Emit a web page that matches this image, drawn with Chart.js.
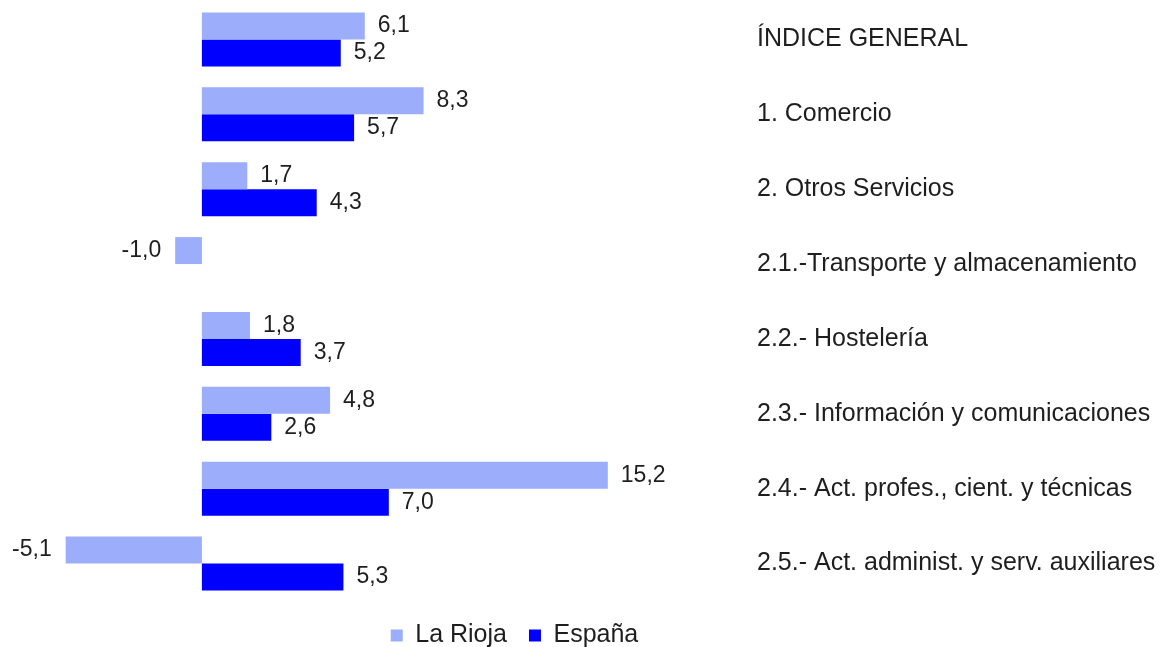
<!DOCTYPE html>
<html>
<head>
<meta charset="utf-8">
<script src="https://cdn.jsdelivr.net/npm/chart.js@4"></script>
<style>
  html, body { margin: 0; padding: 0; background: #fff; }
  #wrap { width: 1160px; height: 647px; }
</style>
</head>
<body>
<div id="wrap"><canvas id="chart"></canvas></div>
<script>
const categories = [
  "ÍNDICE GENERAL",
  "1. Comercio",
  "2. Otros Servicios",
  "2.1.-Transporte y almacenamiento",
  "2.2.- Hostelería",
  "2.3.- Información y comunicaciones",
  "2.4.- Act. profes., cient. y técnicas",
  "2.5.- Act. administ. y serv. auxiliares"
];
const laRioja = [6.1, 8.3, 1.7, -1.0, 1.8, 4.8, 15.2, -5.1];
const espana = [5.2, 5.7, 4.3, null, 3.7, 2.6, 7.0, 5.3];

const FONT = "'Liberation Sans', Arial, Helvetica, sans-serif";

// value labels at the end of each bar
const barValues = {
  id: "barValues",
  afterDatasetsDraw(chart) {
    const ctx = chart.ctx;
    ctx.save();
    ctx.font = "23px " + FONT;
    ctx.fillStyle = "#1e1e1e";
    ctx.textBaseline = "middle";
    chart.data.datasets.forEach((ds, i) => {
      const meta = chart.getDatasetMeta(i);
      meta.data.forEach((bar, j) => {
        const v = ds.data[j];
        if (v === null || v === undefined) return;
        const txt = v.toFixed(1).replace(".", ",");
        if (v >= 0) {
          ctx.textAlign = "left";
          ctx.fillText(txt, bar.x + 13, bar.y);
        } else {
          ctx.textAlign = "right";
          ctx.fillText(txt, bar.x - 14, bar.y);
        }
      });
    });
    ctx.restore();
  }
};

new Chart(document.getElementById("chart"), {
  type: "bar",
  data: {
    labels: categories,
    datasets: [
      {
        label: "La Rioja",
        data: laRioja,
        backgroundColor: "#9cadfb",
        categoryPercentage: 0.72,
        barPercentage: 1.0
      },
      {
        label: "España",
        data: espana,
        backgroundColor: "#0000ff",
        categoryPercentage: 0.72,
        barPercentage: 1.0
      }
    ]
  },
  options: {
    indexAxis: "y",
    responsive: true,
    maintainAspectRatio: false,
    animation: false,
    // negative left/bottom padding: shifts the legend centre left and tucks it down
    layout: { padding: { left: -131, right: 0, top: 2, bottom: -11 } },
    scales: {
      x: {
        display: false,
        min: -7.56,
        max: 20
      },
      y: {
        position: "right",
        grid: { display: false, drawTicks: false },
        border: { display: false },
        ticks: {
          padding: 21,
          color: "#1e1e1e",
          font: { family: FONT, size: 25 }
        },
        afterFit(scale) {
          scale.width = 424;
          scale.paddingTop = 0;
          scale.paddingBottom = 0;
        }
      }
    },
    plugins: {
      legend: {
        position: "bottom",
        labels: {
          boxWidth: 12,
          boxHeight: 12,
          padding: 22,
          color: "#1e1e1e",
          font: { family: FONT, size: 25 }
        }
      },
      tooltip: { enabled: false }
    }
  },
  plugins: [barValues]
});
</script>
</body>
</html>
